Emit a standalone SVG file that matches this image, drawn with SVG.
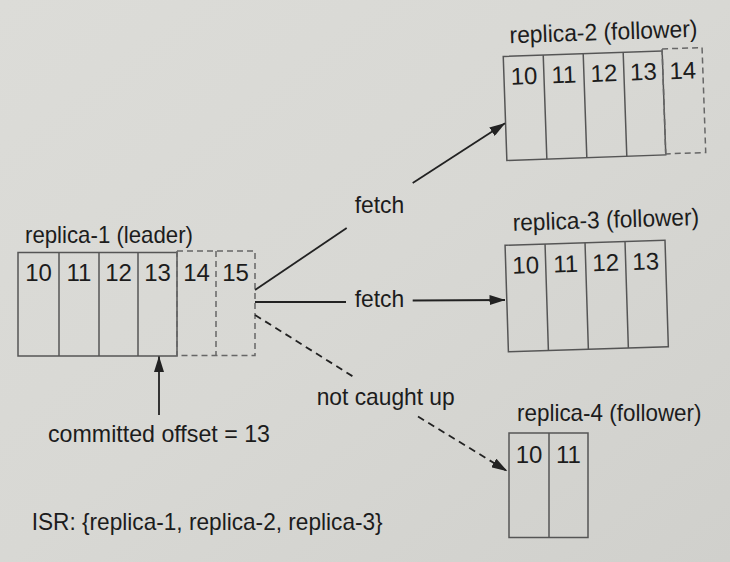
<svg xmlns="http://www.w3.org/2000/svg" width="730" height="562" viewBox="0 0 730 562">
  <defs>
    <linearGradient id="bg" x1="0" y1="0" x2="1" y2="1">
      <stop offset="0" stop-color="#dcdcd8"/>
      <stop offset="0.5" stop-color="#d8d8d4"/>
      <stop offset="1" stop-color="#d0d0cc"/>
    </linearGradient>
    <marker id="arrow" viewBox="0 0 16 10" markerWidth="16" markerHeight="10" refX="15.5" refY="5" orient="auto" markerUnits="userSpaceOnUse">
      <path d="M0,0 L16,5 L0,10 z" fill="#222"/>
    </marker>
    <style>
      .lbl { font-family: "Liberation Sans", Arial, sans-serif; font-size: 24px; fill: #1c1c1c; }
      .num { font-family: "Liberation Sans", Arial, sans-serif; font-size: 24px; fill: #1c1c1c; text-anchor: middle; }
      .box { fill: none; stroke: #555; stroke-width: 1.5; }
      .dbox { fill: none; stroke: #666; stroke-width: 1.5; stroke-dasharray: 6 4; }
      .conn { fill: none; stroke: #222; stroke-width: 1.8; }
      .dconn { fill: none; stroke: #222; stroke-width: 1.8; stroke-dasharray: 7 5; }
    </style>
  </defs>
  <rect width="730" height="562" fill="url(#bg)"/>

  <g id="replica-1">
    <text class="lbl" x="25" y="242.5" textLength="168" lengthAdjust="spacingAndGlyphs">replica-1 (leader)</text>
    <rect class="box" x="18" y="252.5" width="159" height="103.5"/>
    <path class="box" d="M59,252.5 V356 M99,252.5 V356 M138,252.5 V356"/>
    <path class="dbox" d="M177,251 H255 V355.5 H177 M177,251 V356 M216,251 V355.5"/>
    <text class="num" x="38.5" y="281">10</text>
    <text class="num" x="79" y="281">11</text>
    <text class="num" x="118.5" y="281">12</text>
    <text class="num" x="157.5" y="281">13</text>
    <text class="num" x="196.5" y="281">14</text>
    <text class="num" x="235.5" y="281">15</text>
  </g>

  <g id="replica-2" transform="rotate(-2 604.5 105)">
    <text class="lbl" x="512" y="40" textLength="188" lengthAdjust="spacingAndGlyphs">replica-2 (follower)</text>
    <rect class="box" x="505" y="53" width="159" height="104"/>
    <path class="box" d="M545,53 V157 M585,53 V157 M625,53 V157"/>
    <path class="dbox" d="M664,51 H704 V156 H664 M664,51 V157"/>
    <text class="num" x="525" y="81.5">10</text>
    <text class="num" x="565" y="81.5">11</text>
    <text class="num" x="605" y="81.5">12</text>
    <text class="num" x="644.5" y="81.5">13</text>
    <text class="num" x="684" y="81.5">14</text>
  </g>

  <g id="replica-3" transform="rotate(-1.8 586.7 296)">
    <text class="lbl" x="515" y="228.5" textLength="186.5" lengthAdjust="spacingAndGlyphs">replica-3 (follower)</text>
    <rect class="box" x="506.7" y="242.7" width="160" height="106.6"/>
    <path class="box" d="M546.7,242.7 V349.3 M586.7,242.7 V349.3 M626.7,242.7 V349.3"/>
    <text class="num" x="526.7" y="271.5">10</text>
    <text class="num" x="566.7" y="271.5">11</text>
    <text class="num" x="606.7" y="271.5">12</text>
    <text class="num" x="646.7" y="271.5">13</text>
  </g>

  <g id="replica-4">
    <text class="lbl" x="517" y="421" textLength="184.5" lengthAdjust="spacingAndGlyphs">replica-4 (follower)</text>
    <rect class="box" x="509" y="433" width="79" height="104.5"/>
    <path class="box" d="M549,433 V537.5"/>
    <text class="num" x="529" y="462.5">10</text>
    <text class="num" x="568.5" y="462.5">11</text>
  </g>

  <g id="connectors">
    <line class="conn" x1="255" y1="290" x2="346.7" y2="228"/>
    <line class="conn" x1="412.7" y1="183" x2="505" y2="123.3" marker-end="url(#arrow)"/>
    <line class="conn" x1="255" y1="302" x2="346" y2="302"/>
    <line class="conn" x1="412.7" y1="300.5" x2="505" y2="300" marker-end="url(#arrow)"/>
    <line class="dconn" x1="255" y1="315" x2="353" y2="376.5"/>
    <line class="dconn" x1="418" y1="416.5" x2="507" y2="471" marker-end="url(#arrow)"/>
    <line class="conn" x1="159" y1="415" x2="159" y2="356.5" marker-end="url(#arrow)"/>
  </g>

  <g id="labels">
    <text class="lbl" x="354.7" y="213.3" textLength="49.5" lengthAdjust="spacingAndGlyphs">fetch</text>
    <text class="lbl" x="354.7" y="307.3" textLength="49.5" lengthAdjust="spacingAndGlyphs">fetch</text>
    <text class="lbl" x="316.7" y="405" textLength="138" lengthAdjust="spacingAndGlyphs">not caught up</text>
    <text class="lbl" x="48" y="441.7" textLength="222" lengthAdjust="spacingAndGlyphs">committed offset = 13</text>
    <text class="lbl" x="31.7" y="530" textLength="351" lengthAdjust="spacingAndGlyphs">ISR: {replica-1, replica-2, replica-3}</text>
  </g>
</svg>
